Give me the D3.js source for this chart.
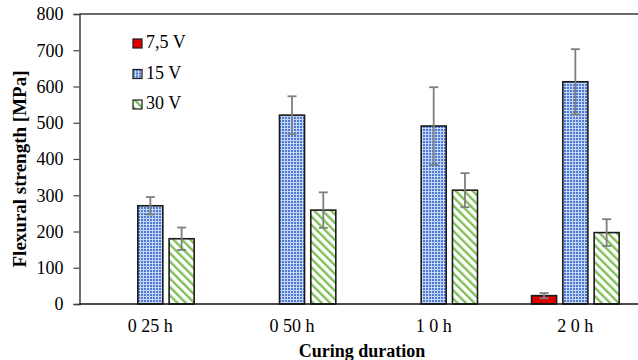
<!DOCTYPE html>
<html>
<head>
<meta charset="utf-8">
<script src="https://cdn.jsdelivr.net/npm/d3@7"></script>
<style>
  body { margin: 0; background: #fff; }
  svg { display: block; font-family: 'Liberation Serif', 'Times New Roman', serif; }
</style>
</head>
<body>
<div class="container"></div>
<script>
(function () {
  const categories = ['0 25 h', '0 50 h', '1 0 h', '2 0 h']
  const seriesNames = ['7,5 V', '15 V', '30 V']
  // mean values and error (+/-) per series, one entry per category
  const v75 = [null, null, null, 23]
  const e75 = [null, null, null, 7]
  const v15 = [271, 521, 491, 613]
  const e15 = [24, 52, 107, 90]
  const v30 = [180, 259, 314, 197]
  const e30 = [31, 49, 47, 37]
  const yTicks = [0, 100, 200, 300, 400, 500, 600, 700, 800]

  const values = [v75, v15, v30]
  const errors = [e75, e15, e30]
  const fills = ['#e00000', 'url(#dots)', 'url(#stripes)']

  var width = 638
  var height = 360
  var left = 79.5
  var top = 14
  var bottom = 304

  var svg = d3.select('.container')
              .append('svg')
              .attr('width', width)
              .attr('height', height)

  // fill patterns
  var defs = svg.append('defs')
  var dots = defs.append('pattern')
                 .attr('id', 'dots')
                 .attr('patternUnits', 'userSpaceOnUse')
                 .attr('width', 3).attr('height', 3)
  dots.append('rect').attr('width', 3).attr('height', 3).attr('fill', '#c6d5f2')
  dots.append('rect').attr('width', 2).attr('height', 2).attr('fill', '#4a7ad6')

  var stripes = defs.append('pattern')
                    .attr('id', 'stripes')
                    .attr('patternUnits', 'userSpaceOnUse')
                    .attr('width', 6).attr('height', 6)
                    .attr('patternTransform', 'rotate(-45)')
  stripes.append('rect').attr('width', 6).attr('height', 6).attr('fill', '#fff')
  stripes.append('rect').attr('width', 2.4).attr('height', 6).attr('fill', '#7fbf5a')

  var x0 = d3.scaleBand().domain(categories).range([left, left + 566.7])
  var x1 = d3.scaleBand().domain(seriesNames).range([0, x0.bandwidth()])
             .paddingInner(0.2).paddingOuter(0.864)
  var y = d3.scaleLinear().domain([0, 800]).range([bottom, top])

  // top frame line
  svg.append('line')
     .attr('x1', left).attr('x2', width)
     .attr('y1', top).attr('y2', top)
     .attr('stroke', '#6a6a6a').attr('stroke-width', 2)

  // y axis
  var yAxis = svg.append('g')
                 .attr('transform', 'translate(' + left + ',0)')
                 .call(d3.axisLeft(y).tickValues(yTicks).tickSize(6).tickPadding(10))
  yAxis.select('.domain').attr('stroke', '#404040').attr('stroke-width', 1.5)
  yAxis.selectAll('.tick line').attr('stroke', '#404040').attr('stroke-width', 1.2)
  yAxis.selectAll('text')
       .attr('font-family', "'Liberation Serif', 'Times New Roman', serif")
       .attr('font-size', 18).attr('fill', '#000')

  // bars
  seriesNames.forEach(function (name, s) {
    categories.forEach(function (cat, i) {
      var v = values[s][i]
      if (v == null) return
      var bx = x0(cat) + x1(name)
      svg.append('rect')
         .attr('x', bx)
         .attr('y', y(v))
         .attr('width', x1.bandwidth())
         .attr('height', y(0) - y(v))
         .attr('fill', fills[s])
         .attr('stroke', '#1a1a1a')
         .attr('stroke-width', 1.6)
    })
  })

  // x axis
  var xAxis = svg.append('g')
                 .attr('transform', 'translate(0,' + bottom + ')')
                 .call(d3.axisBottom(x0).tickSize(0).tickPadding(15))
  xAxis.select('.domain').remove()
  xAxis.selectAll('text')
       .attr('font-family', "'Liberation Serif', 'Times New Roman', serif")
       .attr('font-size', 18).attr('fill', '#000')
  svg.append('line')
     .attr('x1', left).attr('x2', width)
     .attr('y1', bottom).attr('y2', bottom)
     .attr('stroke', '#111').attr('stroke-width', 1.5)

  // error bars
  seriesNames.forEach(function (name, s) {
    categories.forEach(function (cat, i) {
      var v = values[s][i]
      if (v == null) return
      var e = errors[s][i]
      var cx = x0(cat) + x1(name) + x1.bandwidth() / 2
      var g = svg.append('g').attr('stroke', '#7f7f7f').attr('stroke-width', 1.8)
      g.append('line').attr('x1', cx).attr('x2', cx).attr('y1', y(v - e)).attr('y2', y(v + e))
      g.append('line').attr('x1', cx - 4.5).attr('x2', cx + 4.5).attr('y1', y(v + e)).attr('y2', y(v + e))
      g.append('line').attr('x1', cx - 4.5).attr('x2', cx + 4.5).attr('y1', y(v - e)).attr('y2', y(v - e))
    })
  })

  // legend
  var legend = svg.append('g').attr('transform', 'translate(133,39)')
  seriesNames.forEach(function (name, s) {
    var row = legend.append('g').attr('transform', 'translate(0,' + (s * 30.5) + ')')
    row.append('rect')
       .attr('width', 9).attr('height', 9)
       .attr('fill', fills[s])
       .attr('stroke', '#1a1a1a').attr('stroke-width', 1.2)
    row.append('text')
       .attr('x', 13).attr('y', 9)
       .attr('font-size', 18)
       .text(name)
  })

  // axis titles
  svg.append('text')
     .attr('transform', 'translate(26,169) rotate(-90)')
     .attr('text-anchor', 'middle')
     .attr('font-weight', 'bold')
     .attr('font-size', 19)
     .text('Flexural strength [MPa]')

  svg.append('text')
     .attr('x', 362).attr('y', 357)
     .attr('text-anchor', 'middle')
     .attr('font-weight', 'bold')
     .attr('font-size', 18)
     .text('Curing duration')
}())
</script>
</body>
</html>
